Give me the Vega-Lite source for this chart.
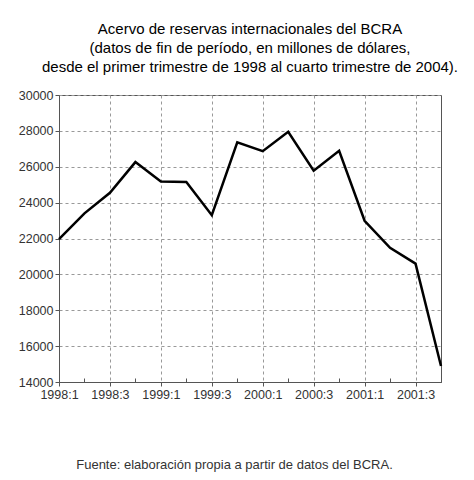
{
  "$schema": "https://vega.github.io/schema/vega-lite/v6.json",
  "autosize": {"type": "none"},
  "padding": {"left": 59, "top": 95, "right": 33, "bottom": 98},
  "width": 382,
  "height": 287,
  "background": "white",
  "title": {
    "text": ["Acervo de reservas internacionales del BCRA", "(datos de fin de período, en millones de dólares,", "desde el primer trimestre de 1998 al cuarto trimestre de 2004)."],
    "font": "Liberation Sans",
    "fontSize": 15,
    "fontWeight": "normal",
    "color": "#000",
    "lineHeight": 19,
    "anchor": "middle",
    "offset": 14
  },
  "config": {
    "view": {"stroke": "#555", "strokeWidth": 1},
    "font": "Liberation Sans"
  },
  "data": {
    "values": [
      {"q": "1998:1", "v": 21960},
      {"q": "1998:2", "v": 23400},
      {"q": "1998:3", "v": 24550},
      {"q": "1998:4", "v": 26260},
      {"q": "1999:1", "v": 25180},
      {"q": "1999:2", "v": 25150},
      {"q": "1999:3", "v": 23300},
      {"q": "1999:4", "v": 27360},
      {"q": "2000:1", "v": 26870},
      {"q": "2000:2", "v": 27950},
      {"q": "2000:3", "v": 25780},
      {"q": "2000:4", "v": 26890},
      {"q": "2001:1", "v": 22990},
      {"q": "2001:2", "v": 21480},
      {"q": "2001:3", "v": 20600},
      {"q": "2001:4", "v": 14890}
    ]
  },
  "mark": {"type": "line", "color": "#000", "strokeWidth": 2.5},
  "encoding": {
    "x": {
      "field": "q",
      "type": "ordinal",
      "scale": {"type": "point", "padding": 0},
      "axis": {
        "title": "Fuente: elaboración propia a partir de datos del BCRA.",
        "titleFont": "Liberation Sans",
        "titleFontSize": 13,
        "titleFontWeight": "normal",
        "titleColor": "#333",
        "titlePadding": 58,
        "titleX": 175,
        "labelAngle": 0,
        "labelFontSize": 12.5,
        "labelColor": "#333",
        "labelPadding": 2,
        "labelExpr": "test(/:[13]$/, datum.value) ? datum.value : ''",
        "domainColor": "#555",
        "tickColor": "#555",
        "tickSize": {"condition": {"test": "test(/:[13]$/, datum.value)", "value": 4}, "value": -4},
        "grid": true,
        "gridColor": "#999",
        "gridDash": [3, 3],
        "gridOpacity": {"condition": {"test": "test(/:[13]$/, datum.value)", "value": 1}, "value": 0}
      }
    },
    "y": {
      "field": "v",
      "type": "quantitative",
      "scale": {"domain": [14000, 30000], "nice": false, "zero": false},
      "axis": {
        "title": null,
        "values": [14000, 16000, 18000, 20000, 22000, 24000, 26000, 28000, 30000],
        "format": "d",
        "labelFontSize": 12.5,
        "labelColor": "#333",
        "labelPadding": 2,
        "tickSize": 4,
        "tickColor": "#555",
        "domainColor": "#555",
        "grid": true,
        "gridColor": "#999",
        "gridDash": [3, 3]
      }
    }
  }
}
